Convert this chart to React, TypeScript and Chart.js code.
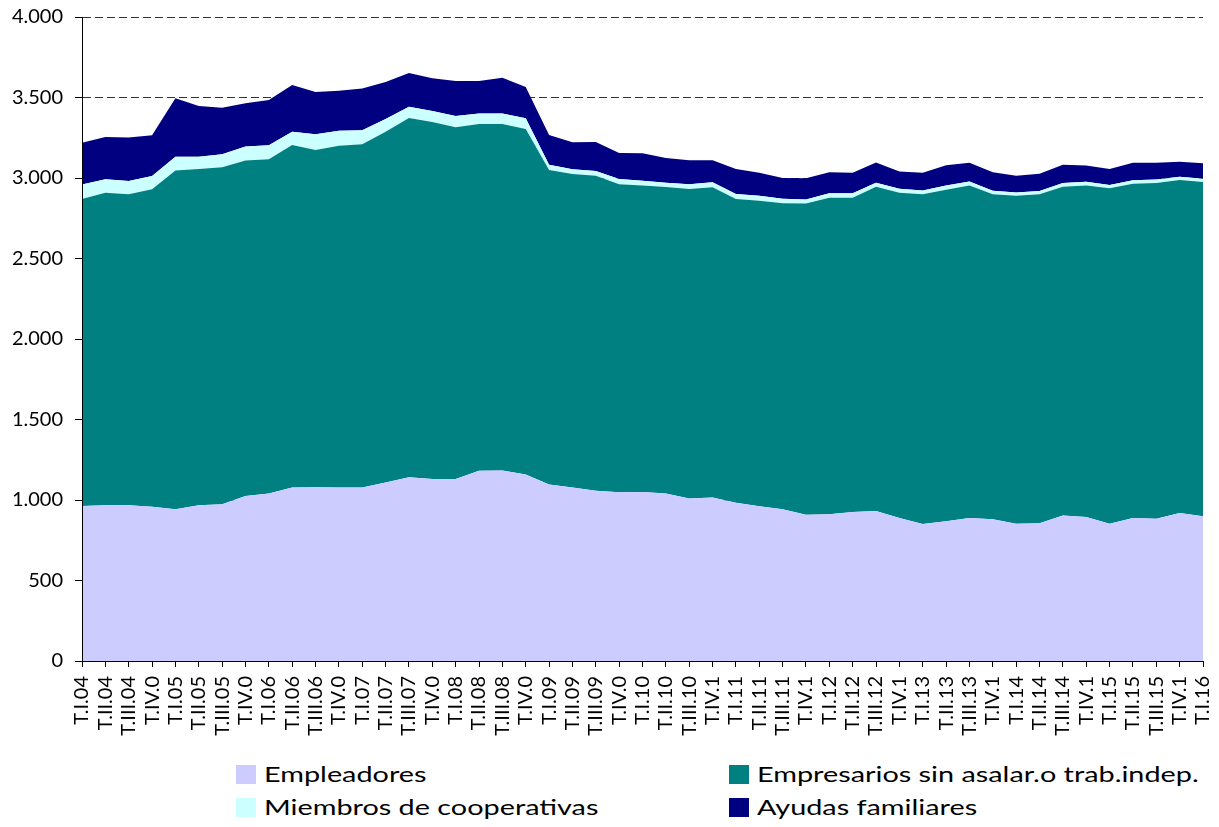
import React, { useEffect, useRef } from "react";
import { Chart, registerables } from "chart.js";

Chart.register(...registerables);

const labels = [
  "T.I.04", "T.II.04", "T.III.04", "T.IV.0",
  "T.I.05", "T.II.05", "T.III.05", "T.IV.0",
  "T.I.06", "T.II.06", "T.III.06", "T.IV.0",
  "T.I.07", "T.II.07", "T.III.07", "T.IV.0",
  "T.I.08", "T.II.08", "T.III.08", "T.IV.0",
  "T.I.09", "T.II.09", "T.III.09", "T.IV.0",
  "T.I.10", "T.II.10", "T.III.10", "T.IV.1",
  "T.I.11", "T.II.11", "T.III.11", "T.IV.1",
  "T.I.12", "T.II.12", "T.III.12", "T.IV.1",
  "T.I.13", "T.II.13", "T.III.13", "T.IV.1",
  "T.I.14", "T.II.14", "T.III.14", "T.IV.1",
  "T.I.15", "T.II.15", "T.III.15", "T.IV.1",
  "T.I.16",
];

const empleadores = [963, 967, 967, 958, 942, 967, 973, 1025, 1041, 1077, 1079, 1077, 1077, 1108, 1141, 1130, 1130, 1182, 1184, 1159, 1097, 1077, 1058, 1048, 1050, 1041, 1010, 1016, 983, 961, 942, 909, 911, 925, 932, 888, 851, 868, 888, 880, 853, 855, 903, 894, 853, 888, 884, 919, 899];
const empresarios = [1907, 1942, 1932, 1972, 2104, 2089, 2093, 2083, 2075, 2128, 2095, 2124, 2132, 2180, 2232, 2218, 2185, 2153, 2151, 2145, 1953, 1948, 1956, 1913, 1903, 1903, 1922, 1926, 1887, 1898, 1901, 1932, 1967, 1953, 2014, 2021, 2048, 2059, 2066, 2019, 2037, 2044, 2043, 2060, 2083, 2077, 2085, 2069, 2076];
const cooperativas = [89, 83, 82, 82, 86, 76, 81, 87, 87, 83, 97, 93, 87, 78, 70, 68, 70, 65, 65, 67, 33, 29, 29, 33, 30, 27, 29, 31, 31, 31, 28, 25, 27, 27, 25, 25, 24, 26, 25, 22, 20, 20, 23, 23, 21, 21, 21, 20, 21];
const ayudas = [260, 263, 270, 253, 363, 315, 290, 269, 281, 290, 263, 248, 260, 230, 209, 203, 217, 202, 223, 194, 184, 168, 181, 161, 170, 153, 149, 137, 155, 143, 129, 133, 130, 128, 126, 107, 110, 126, 116, 114, 104, 108, 114, 100, 99, 109, 105, 93, 95];

const seriesNames = [
  "Empleadores",
  "Empresarios sin asalar.o trab.indep.",
  "Miembros de cooperativas",
  "Ayudas familiares",
];
const seriesColors = ["#CCCCFF", "#008080", "#CCFFFF", "#000080"];

const CANVAS_W = 1219;
const CANVAS_H = 745;

function fmt(v: number): string {
  const s = Math.round(v).toString();
  return s.replace(/\B(?=(\d{3})+(?!\d))/g, ".");
}

function LegendItem({ color, text, left, top }: { color: string; text: string; left: number; top: number }) {
  return (
    <>
      <div style={{ position: "absolute", left, top: top + 3, width: 20, height: 19, background: color }} />
      <div
        style={{
          position: "absolute",
          left: left + 28,
          top: top - 1,
          fontFamily: "Lato, sans-serif",
          fontSize: 22,
          lineHeight: "26px",
          color: "#000",
          whiteSpace: "nowrap",
          transform: "scaleX(1.31)",
          transformOrigin: "left center",
        }}
      >
        {text}
      </div>
    </>
  );
}

export default function App() {
  const canvasRef = useRef<HTMLCanvasElement | null>(null);

  useEffect(() => {
    const canvas = canvasRef.current;
    if (!canvas) return;
    const values = [empleadores, empresarios, cooperativas, ayudas];
    const chart = new Chart(canvas, {
      type: "line",
      data: {
        labels,
        datasets: values.map((d, i) => ({
          label: seriesNames[i],
          data: d,
          backgroundColor: seriesColors[i],
          borderColor: "rgba(0,0,0,0)",
          borderWidth: 0,
          pointRadius: 0,
          pointHoverRadius: 0,
          tension: 0,
          fill: i === 0 ? "origin" : "-1",
        })),
      },
      options: {
        responsive: false,
        animation: false,
        events: [],
        layout: { padding: { left: 0, right: 16, top: 17, bottom: 0 } },
        plugins: {
          legend: { display: false },
          tooltip: { enabled: false },
          title: { display: false },
        },
        scales: {
          x: {
            type: "category",
            offset: false,
            grid: {
              display: true,
              drawOnChartArea: false,
              drawTicks: true,
              tickLength: 6,
              tickColor: "#000",
              tickWidth: 1,
            },
            border: { display: true, color: "#000", width: 1, z: 1 },
            ticks: {
              autoSkip: false,
              maxRotation: 90,
              minRotation: 90,
              padding: 9,
              color: "#000",
              font: { family: "Lato, sans-serif", size: 20 },
            },
            afterFit: (scale: any) => {
              scale.height = CANVAS_H - 661;
              scale.paddingLeft = 0;
              scale.paddingRight = 0;
            },
          },
          y: {
            stacked: true,
            min: 0,
            max: 4000,
            grid: {
              color: "#333333",
              lineWidth: 1,
              drawTicks: true,
              tickLength: 7,
              tickColor: "#000",
            },
            border: { display: true, color: "#000", width: 1, dash: [8, 4], z: 1 },
            ticks: {
              stepSize: 500,
              padding: 12,
              color: "#000",
              font: { family: "Lato, sans-serif", size: 20 },
              callback: (v: any) => fmt(Number(v)),
            },
            afterFit: (scale: any) => {
              scale.width = 82;
              scale.paddingTop = 0;
              scale.paddingBottom = 0;
            },
          },
        },
      },
    });
    return () => chart.destroy();
  }, []);

  return (
    <div style={{ position: "absolute", left: 0, top: 0, width: 1219, height: 827, background: "#fff", overflow: "hidden" }}>
      <canvas ref={canvasRef} width={CANVAS_W} height={CANVAS_H} style={{ position: "absolute", left: 0, top: 0, width: CANVAS_W, height: CANVAS_H }} />
      <LegendItem color={seriesColors[0]} text={seriesNames[0]} left={236} top={762} />
      <LegendItem color={seriesColors[1]} text={seriesNames[1]} left={729} top={762} />
      <LegendItem color={seriesColors[2]} text={seriesNames[2]} left={236} top={795} />
      <LegendItem color={seriesColors[3]} text={seriesNames[3]} left={729} top={795} />
    </div>
  );
}
